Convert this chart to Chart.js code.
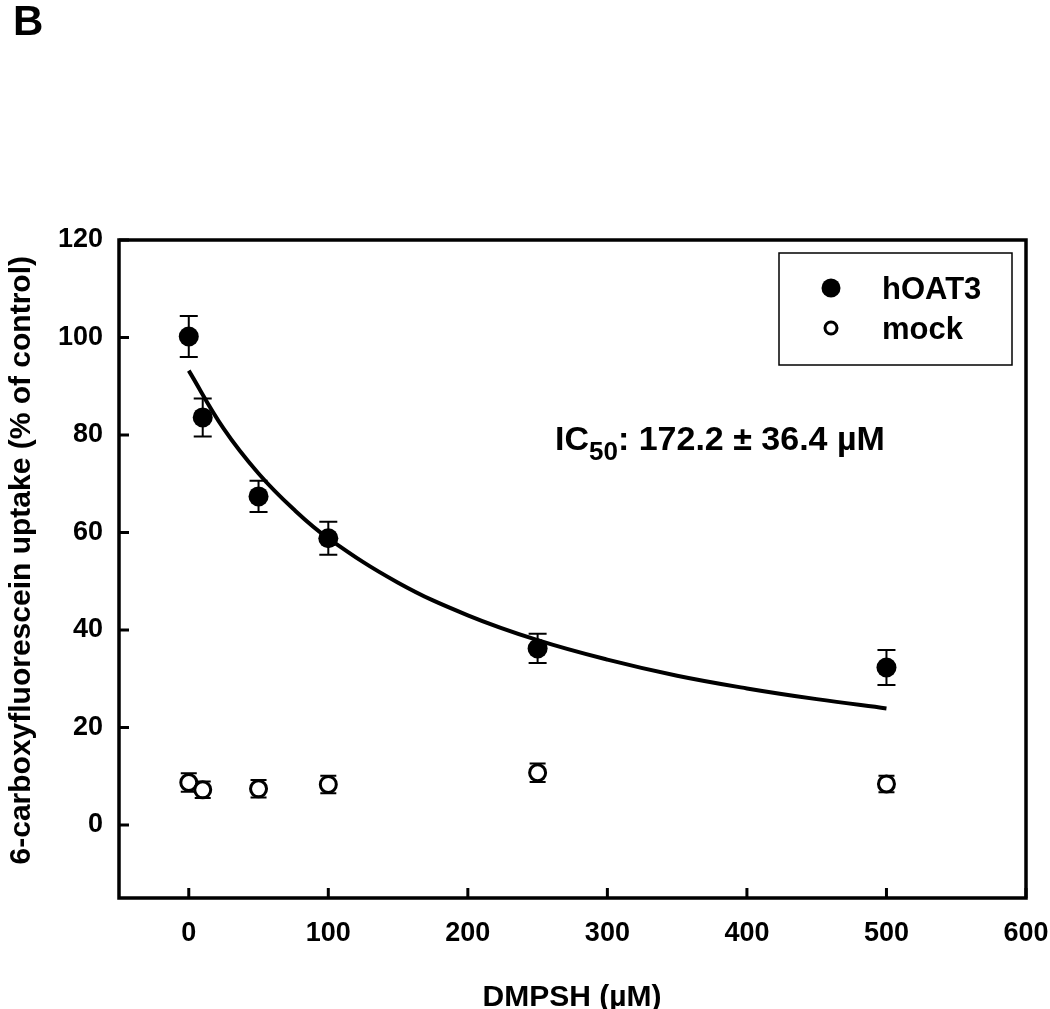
<!DOCTYPE html>
<html>
<head>
<meta charset="utf-8">
<script src="https://cdn.jsdelivr.net/npm/chart.js@4"></script>
<style>
  body { margin: 0; background: #fff; }
  #wrap { width: 1050px; height: 1009px; position: relative; }
</style>
</head>
<body>
<div id="wrap"><canvas id="Chart" width="1050" height="1009"></canvas></div>
<script>
// concentrations (uM)
const conc = [0, 10, 50, 100, 250, 500];
// hOAT3 uptake (% of control) and SE
const hoat3 = [100.2, 83.6, 67.4, 58.8, 36.2, 32.3];
const hoat3Err = [4.2, 3.9, 3.2, 3.4, 3.0, 3.6];
// mock cells
const mock = [8.7, 7.2, 7.4, 8.3, 10.7, 8.4];
const mockErr = [1.9, 1.7, 1.8, 1.8, 1.9, 1.7];
// fitted curve
const fitX = [0, 25, 50, 75, 100, 150, 200, 250, 300, 350, 400, 450, 500];
const fitY = [93.2, 81.3, 72.1, 64.8, 58.8, 49.7, 43.0, 37.9, 33.9, 30.6, 28.0, 25.8, 23.9];
const xTicks = [0, 100, 200, 300, 400, 500, 600];
const yTicks = [0, 20, 40, 60, 80, 100, 120];

const FONT = "'Liberation Sans', Arial, sans-serif";

function pts(xs, ys) {
  return xs.map((x, i) => ({ x: x, y: ys[i] }));
}

const errorBars = {
  id: "errorBars",
  beforeDatasetsDraw(chart) {
    const ctx = chart.ctx;
    const xs = chart.scales.x, ys = chart.scales.y;
    const sets = [[hoat3, hoat3Err, 9], [mock, mockErr, 8]];
    ctx.save();
    ctx.strokeStyle = "#000";
    ctx.lineWidth = 2;
    sets.forEach(([vals, errs, cap]) => {
      conc.forEach((c, i) => {
        const px = xs.getPixelForValue(c);
        const top = ys.getPixelForValue(vals[i] + errs[i]);
        const bot = ys.getPixelForValue(vals[i] - errs[i]);
        ctx.beginPath();
        ctx.moveTo(px, top); ctx.lineTo(px, bot);
        ctx.moveTo(px - cap, top); ctx.lineTo(px + cap, top);
        ctx.moveTo(px - cap, bot); ctx.lineTo(px + cap, bot);
        ctx.stroke();
      });
    });
    ctx.restore();
  }
};

const frame = {
  id: "frame",
  afterDraw(chart) {
    const ctx = chart.ctx;
    const a = chart.chartArea;
    const xs = chart.scales.x, ys = chart.scales.y;
    ctx.save();
    ctx.strokeStyle = "#000";
    ctx.lineWidth = 3.5;
    ctx.strokeRect(a.left, a.top, a.right - a.left, a.bottom - a.top);
    // inward tick marks
    ctx.lineWidth = 3;
    ctx.beginPath();
    xTicks.forEach(t => {
      const px = xs.getPixelForValue(t);
      ctx.moveTo(px, a.bottom); ctx.lineTo(px, a.bottom - 10);
    });
    yTicks.forEach(t => {
      const py = ys.getPixelForValue(t);
      ctx.moveTo(a.left, py); ctx.lineTo(a.left + 10, py);
    });
    ctx.stroke();

    // legend box
    ctx.lineWidth = 1.5;
    ctx.strokeRect(779, 253, 233, 112);
    ctx.fillStyle = "#000";
    ctx.beginPath();
    ctx.arc(831, 288, 9.5, 0, Math.PI * 2);
    ctx.fill();
    ctx.lineWidth = 3;
    ctx.beginPath();
    ctx.arc(831, 328, 6, 0, Math.PI * 2);
    ctx.stroke();
    ctx.font = "bold 31px " + FONT;
    ctx.textBaseline = "alphabetic";
    ctx.textAlign = "left";
    ctx.fillText("hOAT3", 882, 299);
    ctx.fillText("mock", 882, 339);

    // IC50 annotation
    ctx.font = "bold 34px " + FONT;
    let x = 555, y = 450;
    ctx.fillText("IC", x, y);
    x += ctx.measureText("IC").width;
    ctx.font = "bold 26px " + FONT;
    ctx.fillText("50", x, y + 10);
    x += ctx.measureText("50").width;
    ctx.font = "bold 34px " + FONT;
    ctx.fillText(": 172.2 \u00b1 36.4 \u00b5M", x, y);

    // axis titles
    ctx.font = "bold 30px " + FONT;
    ctx.textAlign = "center";
    ctx.fillText("DMPSH (\u00b5M)", 572, 1006);
    ctx.save();
    ctx.translate(30, 256);
    ctx.rotate(-Math.PI / 2);
    ctx.textAlign = "right";
    ctx.fillText("6-carboxyfluorescein uptake (% of control)", 0, 0);
    ctx.restore();

    // panel letter
    ctx.textAlign = "left";
    ctx.font = "bold 42px " + FONT;
    ctx.fillText("B", 13, 35);
    ctx.restore();
  }
};

const ctx = document.getElementById("Chart").getContext("2d");
const myChart = new Chart(ctx, {
  type: "scatter",
  data: {
    datasets: [
      {
        label: "fit",
        data: pts(fitX, fitY),
        showLine: true,
        borderColor: "#000",
        borderWidth: 4,
        pointRadius: 0,
        tension: 0.4,
        fill: false,
      },
      {
        label: "hOAT3",
        data: pts(conc, hoat3),
        pointRadius: 10,
        pointBackgroundColor: "#000",
        pointBorderColor: "#000",
        pointBorderWidth: 0,
      },
      {
        label: "mock",
        data: pts(conc, mock),
        pointRadius: 8,
        pointBackgroundColor: "#fff",
        pointBorderColor: "#000",
        pointBorderWidth: 3,
      },
    ],
  },
  options: {
    responsive: false,
    animation: false,
    layout: { padding: { left: 0, right: 24, top: 240, bottom: 0 } },
    plugins: {
      legend: { display: false },
      tooltip: { enabled: false },
    },
    scales: {
      x: {
        type: "linear",
        min: -50,
        max: 600,
        afterBuildTicks(scale) { scale.ticks = xTicks.map(v => ({ value: v })); },
        afterFit(scale) { scale.height = 111; scale.paddingLeft = 0; scale.paddingRight = 0; },
        grid: { display: false, drawTicks: false },
        border: { display: false },
        ticks: { color: "#000", padding: 19, font: { family: FONT, size: 27, weight: "bold" } },
      },
      y: {
        type: "linear",
        min: -15,
        max: 120,
        afterBuildTicks(scale) { scale.ticks = yTicks.map(v => ({ value: v })); },
        afterFit(scale) { scale.width = 119; scale.paddingTop = 0; scale.paddingBottom = 0; },
        grid: { display: false, drawTicks: false },
        border: { display: false },
        ticks: { color: "#000", padding: 16, font: { family: FONT, size: 27, weight: "bold" } },
      },
    },
  },
  plugins: [errorBars, frame],
});
</script>
</body>
</html>
